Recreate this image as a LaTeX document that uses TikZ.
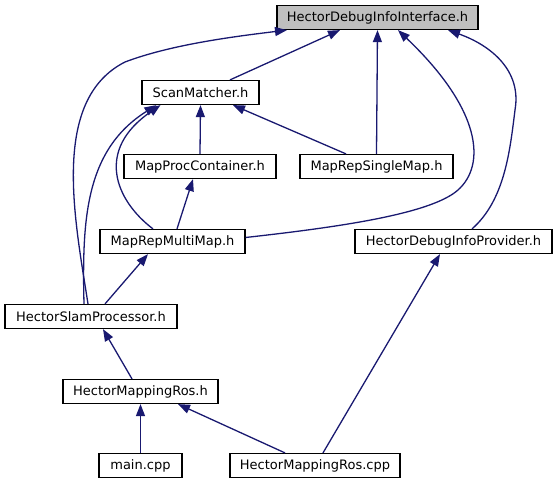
\documentclass[tikz,border=0pt]{standalone}
\usepackage{fontspec}
\setmainfont{DejaVu Sans}
\usetikzlibrary{arrows.meta}
\definecolor{edgecol}{HTML}{191970}
\definecolor{rootfill}{HTML}{BFBFBF}
\tikzset{
  box/.style={draw=black, line width=1.2pt, fill=white, minimum height=24pt, inner sep=0pt, font=\fontsize{13}{15}\selectfont},
  rootbox/.style={box, fill=rootfill},
  edge/.style={draw=edgecol, line width=1.3pt, -{Triangle[length=12pt,width=9pt]}}
}
\begin{document}
\begin{tikzpicture}[x=1pt,y=-1pt]
\useasboundingbox (0,0) rectangle (558,485);
\node[rootbox, minimum width=201pt] (hdii) at (377.5,17.5) {HectorDebugInfoInterface.h};
\node[box, minimum width=117pt] (sm) at (200.5,92.5) {ScanMatcher.h};
\node[box, minimum width=152pt] (mpc) at (200,166.5) {MapProcContainer.h};
\node[box, minimum width=153pt] (mrsm) at (376.5,166.5) {MapRepSingleMap.h};
\node[box, minimum width=145pt] (mrmm) at (172.5,241.5) {MapRepMultiMap.h};
\node[box, minimum width=197pt] (hdip) at (453.5,241.5) {HectorDebugInfoProvider.h};
\node[box, minimum width=172pt] (hsp) at (91,316.5) {HectorSlamProcessor.h};
\node[box, minimum width=155pt] (hmrh) at (140.5,391.5) {HectorMappingRos.h};
\node[box, minimum width=83pt] (main) at (140.5,465.5) {main.cpp};
\node[box, minimum width=170pt] (cpp) at (315,465.5) {HectorMappingRos.cpp};

% edges to HectorDebugInfoInterface.h
\draw[edge] ([xshift=29.5pt]sm.north) -- ([xshift=-37.5pt]hdii.south);
\draw[edge] ([xshift=-3pt]hsp.north) .. controls (75,220) and (50,100) .. (125,62) .. controls (170,45) and (230,37) .. ([xshift=-90.5pt]hdii.south);
\draw[edge] (mrsm.north) -- (hdii.south);
\draw[edge] ([yshift=4pt]mrmm.east) .. controls (330,228) and (430,215) .. (458,190) .. controls (486,165) and (482,110) .. ([xshift=20.5pt]hdii.south);
\draw[edge] ([xshift=18.5pt]hdip.north) .. controls (505,200) and (510,150) .. (515,110) .. controls (522,70) and (490,45) .. ([xshift=70.5pt]hdii.south);

% edges to ScanMatcher.h
\draw[edge] (mpc.north) -- (sm.south);
\draw[edge] ([xshift=-30.5pt]mrsm.north) -- ([xshift=32.5pt]sm.south);
\draw[edge] ([xshift=-19.5pt]mrmm.north) .. controls (115,200) and (95,150) .. ([xshift=-40pt]sm.south);
\draw[edge] ([xshift=-7pt]hsp.north) .. controls (82,220) and (85,150) .. ([xshift=-44pt]sm.south);

% others
\draw[edge] ([xshift=4.5pt]mrmm.north) -- ([xshift=-7pt]mpc.south);
\draw[edge] ([xshift=14pt]hsp.north) -- ([xshift=-24.5pt]mrmm.south);
\draw[edge] ([xshift=-8.5pt]hmrh.north) -- ([xshift=12pt]hsp.south);
\draw[edge] (main.north) -- (hmrh.south);
\draw[edge] ([xshift=-30pt]cpp.north) -- ([xshift=37.5pt]hmrh.south);
\draw[edge] ([xshift=8pt]cpp.north) -- ([xshift=-13.5pt]hdip.south);
\end{tikzpicture}
\end{document}
